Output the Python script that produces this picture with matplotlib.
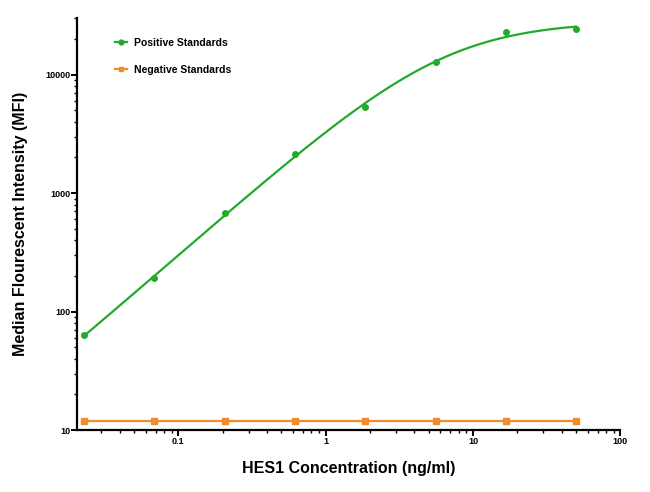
"""HES1 标准曲线 (Luminex MFI)"""

import numpy as np
import matplotlib

matplotlib.use("Agg")
import matplotlib.pyplot as plt
from matplotlib.ticker import FixedLocator, FixedFormatter, LogLocator, NullFormatter

# 数据
conc = [0.0229, 0.0686, 0.206, 0.617, 1.85, 5.56, 16.67, 50.0]
pos_mfi = [63, 192, 676, 2150, 5350, 12900, 22900, 24200]
neg_mfi = [12, 12, 12, 12, 12, 12, 12, 12]

x_ticks = [0.1, 1, 10, 100]
x_tick_labels = ["0.1", "1", "10", "100"]
y_ticks = [10, 100, 1000, 10000]
y_tick_labels = ["10", "100", "1000", "10000"]

GREEN = "#22aa2a"
ORANGE = "#f08d2a"

plt.rcParams["font.family"] = ["Liberation Sans", "DejaVu Sans"]
plt.rcParams["font.weight"] = "bold"


def fit_4pl(x, y):
    """四参数 logistic 拟合：网格搜索 B、C，A/D 用加权线性最小二乘"""
    x = np.asarray(x, float)
    y = np.asarray(y, float)
    best = None
    for b in np.linspace(0.5, 2.0, 151):
        for logc in np.linspace(-1, 2, 301):
            c = 10 ** logc
            g = 1.0 / (1.0 + (x / c) ** b)
            m = np.column_stack([g, 1 - g]) / y[:, None]
            coef, *_ = np.linalg.lstsq(m, np.ones_like(y), rcond=None)
            r = np.sum((m @ coef - 1) ** 2)
            if best is None or r < best[0]:
                best = (r, coef[0], coef[1], b, c)
    _, a, d, b, c = best
    return lambda t: d + (a - d) / (1.0 + (t / c) ** b)


fig = plt.figure(figsize=(6.5, 4.92), dpi=100)
ax = fig.add_axes([0.1185, 0.126, 0.836, 0.837])

f = fit_4pl(conc, pos_mfi)
xs = np.logspace(np.log10(conc[0]), np.log10(conc[-1]), 300)
ax.plot(xs, f(xs), color=GREEN, lw=1.6, zorder=3)
ax.plot(conc, pos_mfi, "o", color=GREEN, ms=4, zorder=4)
ax.plot(conc, neg_mfi, "-s", color=ORANGE, lw=1.6, ms=4.5, zorder=3)

# 图例 (带标记的短线段)
ax.plot([], [], "-o", color=GREEN, lw=1.6, ms=3.5, label="Positive Standards")
ax.plot([], [], "-s", color=ORANGE, lw=1.6, ms=3.5, label="Negative Standards")
handles, labels = ax.get_legend_handles_labels()
ax.legend(handles[-2:], labels[-2:], loc="upper left", bbox_to_anchor=(0.052, 0.975),
          frameon=False, handlelength=1.2, handletextpad=0.7, labelspacing=1.65,
          prop={"weight": "bold", "size": 7.5})

ax.set_xscale("log")
ax.set_yscale("log")
ax.set_xlim(0.0205, 100)
ax.set_ylim(10, 30000)

ax.xaxis.set_major_locator(FixedLocator(x_ticks))
ax.xaxis.set_major_formatter(FixedFormatter(x_tick_labels))
ax.yaxis.set_major_locator(FixedLocator(y_ticks))
ax.yaxis.set_major_formatter(FixedFormatter(y_tick_labels))
ax.xaxis.set_minor_locator(LogLocator(base=10, subs=np.arange(2, 10)))
ax.yaxis.set_minor_locator(LogLocator(base=10, subs=np.arange(2, 10)))
ax.xaxis.set_minor_formatter(NullFormatter())
ax.yaxis.set_minor_formatter(NullFormatter())

for side in ["top", "right"]:
    ax.spines[side].set_visible(False)
for side in ["left", "bottom"]:
    ax.spines[side].set_linewidth(1.6)
ax.tick_params(which="major", length=4, width=1.4, labelsize=6.5, pad=1)
ax.tick_params(which="minor", length=2, width=1.0)

ax.set_xlabel("HES1 Concentration (ng/ml)", fontsize=11.5, fontweight="bold", labelpad=11)
ax.set_ylabel("Median Flourescent Intensity (MFI)", fontsize=11.5, fontweight="bold", labelpad=12)

fig.savefig("out.png", dpi=100)
